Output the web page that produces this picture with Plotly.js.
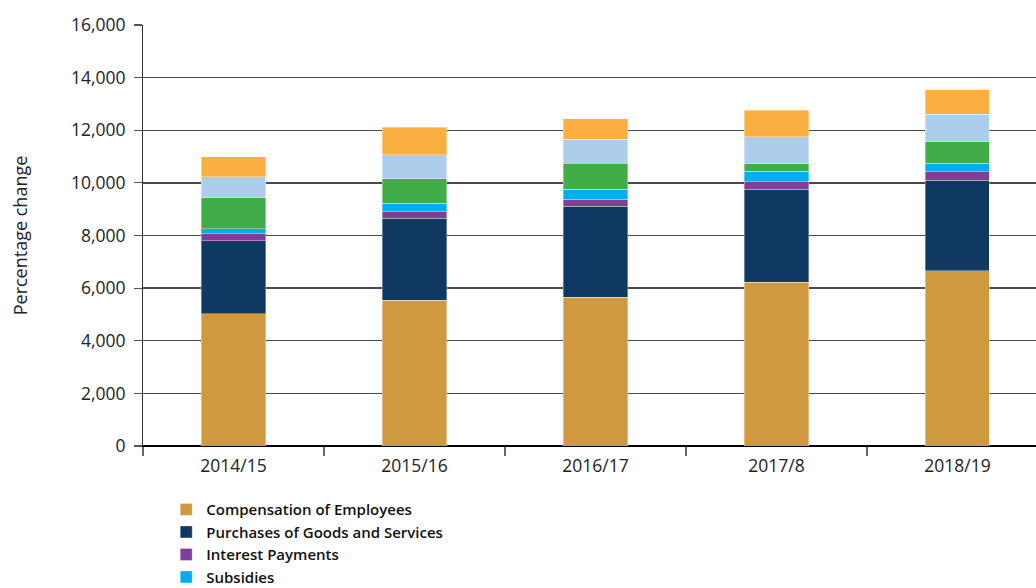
<!DOCTYPE html>
<html>
<head>
<meta charset="utf-8">
<script src="https://cdn.plot.ly/plotly-3.0.1.min.js"></script>
<style>
html,body{margin:0;padding:0;background:#fff;}
#chart{width:1036px;height:588px;}
</style>
</head>
<body>
<div id="chart"></div>
<script>
// Data
const years = ["2014/15", "2015/16", "2016/17", "2017/8", "2018/19"];
const compensation = [5020, 5540, 5660, 6220, 6660];
const purchases = [2780, 3120, 3450, 3540, 3440];
const interest = [270, 250, 270, 290, 320];
const subsidies = [190, 320, 380, 390, 330];
const transfersHouseholds = [1180, 920, 990, 290, 810];
const otherTransfers = [800, 910, 900, 1015, 1050];
const capital = [760, 1060, 790, 1015, 930];

const seriesNames = [
  "Compensation of Employees",
  "Purchases of Goods and Services",
  "Interest Payments",
  "Subsidies",
  "Transfers to Households",
  "Other Current Transfers",
  "Capital Expenditure"
];
const seriesValues = [compensation, purchases, interest, subsidies, transfersHouseholds, otherTransfers, capital];
const seriesColors = ["#CF9A3F", "#0F3862", "#7D3F98", "#00AEEF", "#41AD49", "#ADCDED", "#FBAF40"];
// only the first four legend entries are visible in the reference (the rest fall below the frame)
const inLegend = [true, true, true, true, false, false, false];

const traces = seriesNames.map((name, i) => ({
  type: "bar",
  name: name,
  x: years,
  y: seriesValues[i],
  width: 0.354,
  showlegend: inLegend[i],
  marker: {color: seriesColors[i], line: {color: "rgba(255,255,255,0.6)", width: 0.6}},
  hoverinfo: "x+y+name"
}));

const layout = {
  width: 1036,
  height: 588,
  paper_bgcolor: "#ffffff",
  plot_bgcolor: "#ffffff",
  barmode: "stack",
  margin: {l: 143, r: 0, t: 25, b: 142, autoexpand: false},
  font: {family: "'Open Sans', 'Noto Sans', sans-serif", color: "#222", size: 16},
  xaxis: {
    type: "category",
    range: [-0.5, 4.434],
    showline: true,
    linecolor: "#000",
    linewidth: 1.2,
    ticks: "outside",
    tickson: "boundaries",
    ticklen: 9,
    tickcolor: "#666",
    tickwidth: 1.2,
    ticklabelstandoff: 4,
    showgrid: false,
    zeroline: false,
    tickfont: {size: 17.5, color: "#222"},
    fixedrange: true
  },
  yaxis: {
    range: [0, 16000],
    tickvals: [0, 2000, 4000, 6000, 8000, 10000, 12000, 14000, 16000],
    ticktext: ["0", "2,000", "4,000", "6,000", "8,000", "10,000", "12,000", "14,000", "16,000"],
    showline: true,
    linecolor: "#333",
    linewidth: 1,
    ticks: "outside",
    ticklen: 8,
    tickcolor: "#555",
    tickwidth: 1.2,
    ticklabelstandoff: 5,
    showgrid: true,
    gridcolor: "#4a4a4a",
    gridwidth: 1.3,
    zeroline: true,
    zerolinecolor: "#000",
    zerolinewidth: 1.2,
    tickfont: {size: 17.5, color: "#222"},
    title: {text: "Percentage change", font: {size: 18, color: "#222"}, standoff: 38},
    automargin: false,
    fixedrange: true
  },
  showlegend: true,
  legend: {
    orientation: "v",
    traceorder: "normal",
    x: 0.026,
    xanchor: "left",
    y: -0.112,
    yanchor: "top",
    font: {size: 15, color: "#111", weight: 600},
    bgcolor: "rgba(0,0,0,0)",
    tracegroupgap: 0
  }
};

Plotly.newPlot("chart", traces, layout, {displayModeBar: false, staticPlot: true});
</script>
</body>
</html>
